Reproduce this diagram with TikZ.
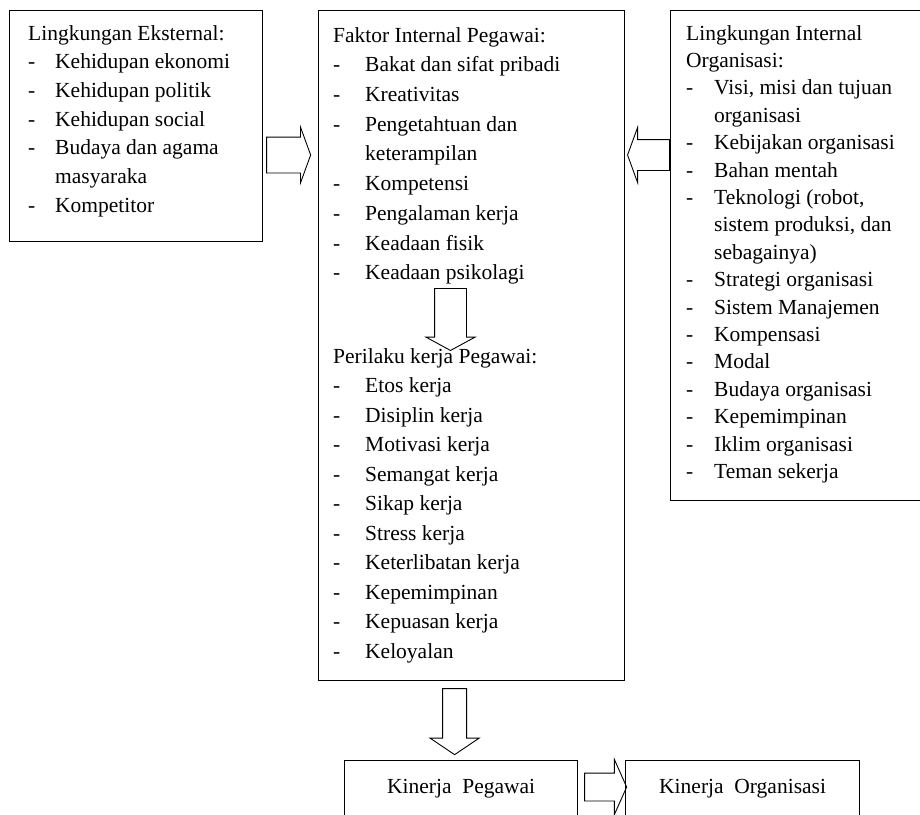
\documentclass[tikz,border=0pt]{standalone}
\usepackage{fontspec}
\setmainfont{Liberation Serif}
\usetikzlibrary{shapes.arrows,calc}

\newcommand{\itm}[1][32pt]{\makebox[#1][l]{-}}
\newcommand{\nxt}[1][32pt]{\hspace*{#1}}

\tikzset{
  box/.style={draw, line width=1.2pt, anchor=north west, inner sep=0pt},
  list/.style={anchor=north west, inner sep=0pt, align=left},
  fat/.style={draw, single arrow, line width=0.9pt, inner xsep=0pt, single arrow head indent=0pt, anchor=tail},
  fatdown/.style={fat, shape border rotate=270, inner ysep=0pt, inner xsep=#1}
}

\begin{document}
\begin{tikzpicture}[x=1pt,y=-1pt,font=\fontsize{21.5}{28.7}\selectfont]
\useasboundingbox (0,0) rectangle (920,814);
\clip (0,0) rectangle (920,814);

% the three upper boxes
\node[box, minimum width=253pt, minimum height=231pt] (ext) at (9,10) {};
\node[box, minimum width=306pt, minimum height=670pt] (fip) at (318,10) {};
\node[box, minimum width=262pt, minimum height=490pt] (lio) at (670,10) {};

\node[list, font=\fontsize{21.5}{28.7}\selectfont] (extT) at ($(ext.north west)+(19,15)$) {%
Lingkungan Eksternal:\\
\itm[27pt]Kehidupan ekonomi\\
\itm[27pt]Kehidupan politik\\
\itm[27pt]Kehidupan social\\
\itm[27pt]Budaya dan agama\\
\nxt[27pt]masyaraka\\
\itm[27pt]Kompetitor};

\node[list, font=\fontsize{21.5}{29.7}\selectfont] (fipT) at ($(fip.north west)+(15,17)$) {%
Faktor Internal Pegawai:\\
\itm Bakat dan sifat pribadi\\
\itm Kreativitas\\
\itm Pengetahtuan dan\\
\nxt keterampilan\\
\itm Kompetensi\\
\itm Pengalaman kerja\\
\itm Keadaan fisik\\
\itm Keadaan psikolagi};

\node[list, font=\fontsize{21.5}{29.5}\selectfont] (fipB) at ($(fip.north west)+(15,338)$) {%
Perilaku kerja Pegawai:\\
\itm Etos kerja\\
\itm Disiplin kerja\\
\itm Motivasi kerja\\
\itm Semangat kerja\\
\itm Sikap kerja\\
\itm Stress kerja\\
\itm Keterlibatan kerja\\
\itm Kepemimpinan\\
\itm Kepuasan kerja\\
\itm Keloyalan};

\node[list, font=\fontsize{21.5}{27.4}\selectfont] (lioT) at ($(lio.north west)+(16,15)$) {%
Lingkungan Internal\\
Organisasi:\\
\itm[28pt]Visi, misi dan tujuan\\
\nxt[28pt]organisasi\\
\itm[28pt]Kebijakan organisasi\\
\itm[28pt]Bahan mentah\\
\itm[28pt]Teknologi (robot,\\
\nxt[28pt]sistem produksi, dan\\
\nxt[28pt]sebagainya)\\
\itm[28pt]Strategi organisasi\\
\itm[28pt]Sistem Manajemen\\
\itm[28pt]Kompensasi\\
\itm[28pt]Modal\\
\itm[28pt]Budaya organisasi\\
\itm[28pt]Kepemimpinan\\
\itm[28pt]Iklim organisasi\\
\itm[28pt]Teman sekerja};

% bottom boxes
\node[box, minimum width=233pt, minimum height=56pt] (kp) at (344,760) {Kinerja\enspace Pegawai};
\node[box, minimum width=234pt, minimum height=56pt] (ko) at (625,760) {Kinerja\enspace Organisasi};

% block arrows
\node[fat, minimum height=44pt, inner ysep=17.5pt, single arrow head extend=10pt, single arrow tip angle=140] (a1) at ($(ext.north east)+(3,145)$) {};
\node[fat, minimum height=42pt, inner ysep=15pt, single arrow head extend=12pt, single arrow tip angle=140, shape border rotate=180] (a2) at ($(lio.north west)+(0,145)$) {};
\node[fatdown=15.5pt, minimum height=62pt, single arrow head extend=8.5pt, single arrow tip angle=123] (a3) at ($(fip.north west)+(132.5,278)$) {};
\node[fatdown=11.5pt, minimum height=66pt, single arrow head extend=12.5pt, single arrow tip angle=112] (a4) at ($(fip.south)+(-17,7)$) {};
\node[fat, minimum height=42pt, inner ysep=13.5pt, single arrow head extend=13.5pt, single arrow tip angle=132] (a5) at ($(kp.north east)+(6,27)$) {};
%\draw (kp) -- (ko);
\end{tikzpicture}
\end{document}
